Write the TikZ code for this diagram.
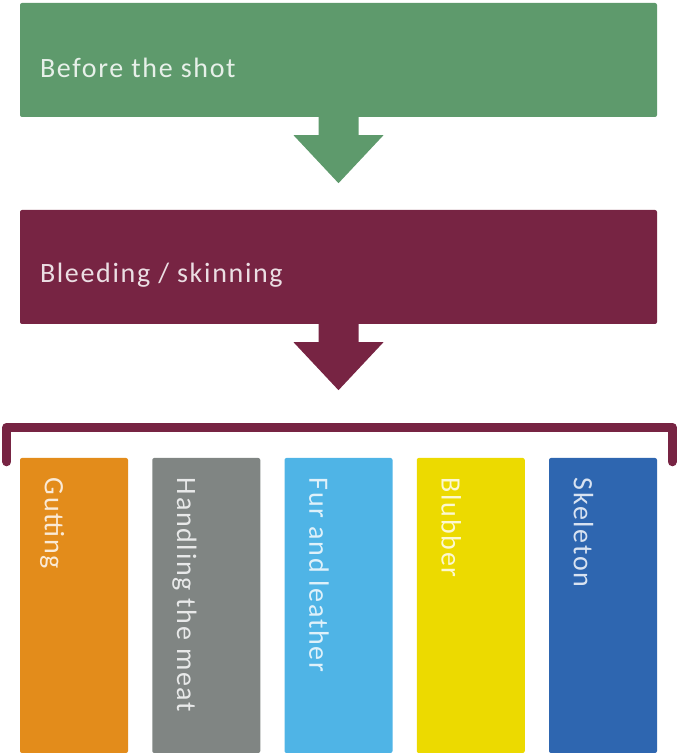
\documentclass[tikz,border=0pt]{standalone}
\usepackage{fontspec}
\setmainfont{Carlito}[LetterSpace=6]
\usepackage{xcolor}
\usetikzlibrary{calc}
\definecolor{shotgreen}{HTML}{5E9A6C}
\definecolor{bleedred}{HTML}{772443}
\definecolor{gutorange}{HTML}{E38C1B}
\definecolor{meatgray}{HTML}{808583}
\definecolor{furblue}{HTML}{4FB4E6}
\definecolor{blubyellow}{HTML}{ECDA00}
\definecolor{skelblue}{HTML}{2E66B0}

\begin{document}
\begin{tikzpicture}[x=1pt, y=1pt,
    stagebox/.style={rectangle, rounded corners=2pt, minimum width=637pt, minimum height=114pt, inner sep=0pt},
    partbox/.style={rectangle, rounded corners=2pt, minimum width=108pt, minimum height=295pt, inner sep=0pt},
    stagetext/.style={anchor=base west, inner sep=0pt, font=\fontsize{28}{32}\selectfont},
    parttext/.style={anchor=base west, rotate=-90, inner sep=0pt, font=\fontsize{28}{32}\selectfont},
    bracket/.style={line width=9pt, line cap=round, line join=round, draw=bleedred}]
    \useasboundingbox (0,0) rectangle (679,756);
    % Draw the two stages
    \node[stagebox, fill=shotgreen] (shot) at (338.5,696) {};
    \node[stagebox, fill=bleedred] (bleed) at (338.5,489) {};
    \node[stagetext, text=white!85!shotgreen] (shottxt) at ($(shot.west)+(20,-18)$) {Before the shot};
    \node[stagetext, text=white!85!bleedred] (bleedtxt) at ($(bleed.west)+(20,-16)$) {Bleeding / skinning};
    % Block arrows below the stages
    \foreach \s/\col in {shot/shotgreen, bleed/bleedred} {
        \fill[\col] ($(\s.south)+(-20,1)$) -- ++(0,-19) -- ++(-25,0) -- ($(\s.south)+(0,-66)$)
            -- ($(\s.south)+(45,-18)$) -- ++(-25,0) -- ++(0,19) -- cycle;
    }
    % Draw the five parts
    \foreach \n/\x/\col/\txt in {gut/74/gutorange/Gutting, meat/206.25/meatgray/Handling the meat,
        fur/338.5/furblue/Fur and leather, blub/470.75/blubyellow/Blubber, skel/603/skelblue/Skeleton} {
        \node[partbox, fill=\col] (\n) at (\x,150.5) {};
        \node[parttext, text=white!82!\col] (\n txt) at ($(\n.north west)+(25,-20)$) {\txt};
    }
    % Bracket over the parts
    \coordinate (brl) at ($(gut.north west)+(-13,-4)$);
    \coordinate (brr) at ($(skel.north east)+(15,-4)$);
    \draw[bracket] (brl) |- ($(bleed.south)+(0,-103)$) -| (brr);
\end{tikzpicture}
\end{document}
